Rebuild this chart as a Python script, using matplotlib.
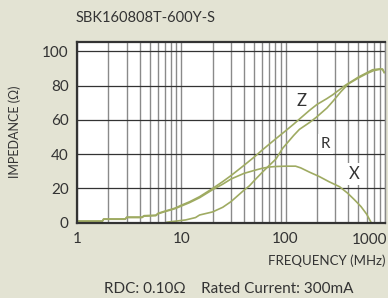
import matplotlib
matplotlib.use('Agg')
import matplotlib.pyplot as plt
import matplotlib.transforms as mtransforms

plt.rcParams['font.family'] = ['Lato', 'DejaVu Sans']

# Datos (MHz, ohm)
freq_z = [1, 1.75, 1.8, 2.9, 3.0, 4.2, 4.4, 5.7, 6, 7, 8, 8.8, 10, 12, 15, 20, 25, 30, 40, 50,
          60, 70, 80, 100, 120, 136, 170, 200, 250, 284, 300, 380, 400, 500, 600, 684, 800, 852, 885]
imp_z = [1.0, 1.0, 2.2, 2.2, 3.3, 3.3, 4.1, 4.4, 5.5, 6.8, 7.8, 8.6, 10.2, 12.2, 15.2, 20.0, 24.0,
         27.5, 33.5, 38.3, 42.5, 45.9, 48.8, 53.6, 57.6, 60.5, 65.6, 69.0, 72.5, 74.7, 75.8, 80.5,
         81.3, 85.0, 87.5, 89.3, 89.8, 89.7, 87.7]

freq_r = [7.3, 8, 10, 11, 13.7, 15, 20, 25, 30, 40, 45, 50, 60, 70, 81, 94, 120, 136, 170, 197,
          250, 284, 340, 400, 500, 600, 700, 800, 852, 885]
imp_r = [0.3, 0.6, 1.3, 1.6, 3.0, 4.5, 6.3, 9.0, 12.3, 19.0, 21.5, 24.5, 29.5, 33.5, 37.2, 43.5,
         51.0, 54.5, 58.5, 61.5, 67.0, 70.8, 76.5, 81.0, 84.5, 87.0, 88.8, 89.5, 89.5, 87.7]

freq_x = [1, 1.75, 1.8, 2.9, 3.0, 4.2, 4.4, 5.7, 6, 7, 8, 8.8, 10, 12, 15, 20, 25, 30, 40, 50,
          60, 70, 80, 100, 125, 140, 170, 210, 260, 330, 395, 460, 530, 600, 660]
imp_x = [0.8, 0.8, 2.0, 2.0, 3.0, 3.0, 3.8, 4.1, 5.2, 6.5, 7.5, 8.3, 9.7, 11.7, 14.6, 19.3, 22.5,
         25.5, 28.8, 30.5, 31.8, 32.5, 32.8, 33.0, 33.0, 32.0, 29.5, 27.0, 24.0, 21.0, 17.2, 13.3,
         9.4, 5.0, 0.3]

x_ticks = [1, 10, 100]
x_labels = ['1', '10', '100']
y_ticks = [0, 20, 40, 60, 80, 100]

fondo = '#e3e3d3'
verde = '#9fab62'
texto = '#333333'

fig = plt.figure(figsize=(3.88, 2.98), dpi=100, facecolor=fondo)
ax = fig.add_axes([77 / 388, 1 - 222.7 / 298, (385 - 77) / 388, (222.7 - 42) / 298])
ax.set_facecolor('white')

ax.set_xscale('log')
ax.set_xlim(1, 885)
ax.set_ylim(0, 105.5)

# rejilla
ax.set_xticks(x_ticks)
ax.set_xticklabels(x_labels)
ax.set_xticks([m * d for d in [1, 10, 100] for m in range(2, 10)], minor=True)
ax.set_xticklabels([], minor=True)
ax.set_yticks(y_ticks)
ax.grid(True, which='both', axis='x', color='#8a8a8a', linewidth=1.0)
ax.grid(True, axis='y', color='#333333', linewidth=0.9)
ax.set_axisbelow(True)

ax.tick_params(which='both', length=0, colors=texto, labelsize=11)
ax.tick_params(axis='y', pad=6)
ax.tick_params(axis='x', pad=7)

for lado in ['left', 'bottom', 'top']:
    ax.spines[lado].set_color('#333333')
    ax.spines[lado].set_linewidth(1.6)
ax.spines['right'].set_color('#8a8a8a')
ax.spines['right'].set_linewidth(1.0)

# curvas
ax.plot(freq_z, imp_z, color=verde, linewidth=1.2, clip_on=False)
ax.plot(freq_r, imp_r, color=verde, linewidth=1.2)
ax.plot(freq_x, imp_x, color=verde, linewidth=1.2, clip_on=False)

caja = dict(facecolor='white', edgecolor='none', pad=2)
ax.text(141, 70.8, 'Z', ha='center', va='center', fontsize=12, color=texto)
ax.text(241, 46, 'R', ha='center', va='center', fontsize=11, color=texto, bbox=caja)
ax.text(457, 28.5, 'X', ha='center', va='center', fontsize=12, color=texto, bbox=caja)

# etiqueta 1000 fuera del rango
trans = mtransforms.blended_transform_factory(ax.transData, ax.transAxes)
ax.text(637, -0.098, '1000', transform=trans, ha='center', va='center', fontsize=11, color=texto)

fig.text(76 / 388, 1 - 18 / 298, 'SBK160808T-600Y-S', ha='left', va='center',
         fontsize=10.5, color=texto)
fig.text(15 / 388, 1 - 132 / 298, 'IMPEDANCE (Ω)', rotation=90, ha='center', va='center',
         fontsize=9, color=texto)
fig.text(385 / 388, 1 - 261 / 298, 'FREQUENCY (MHz)', ha='right', va='center',
         fontsize=9.5, color=texto)
fig.text(229 / 388, 1 - 289 / 298, 'RDC: 0.10Ω    Rated Current: 300mA', ha='center',
         va='center', fontsize=11, color=texto)

fig.savefig('out.png', dpi=100, facecolor=fondo)
